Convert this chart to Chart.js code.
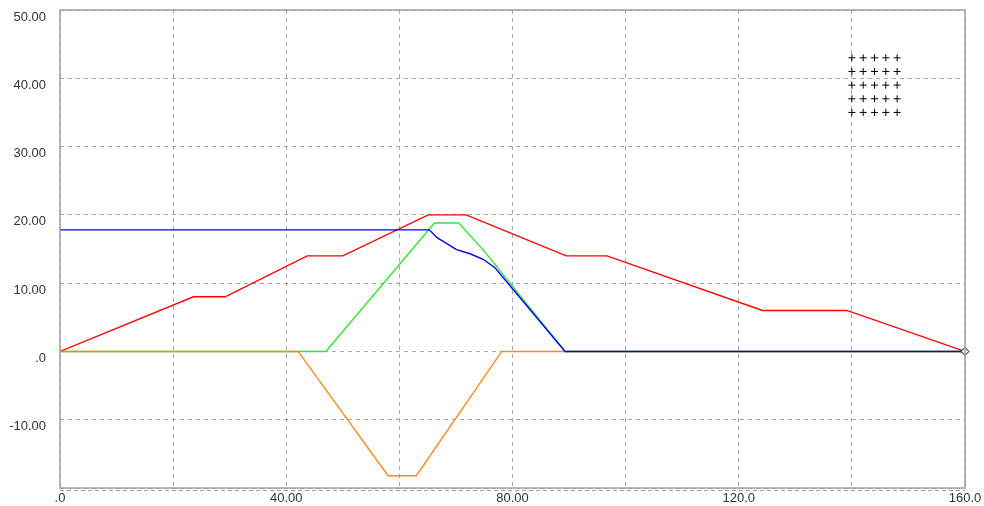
<!DOCTYPE html>
<html>
<head>
<meta charset="utf-8">
<script src="https://cdn.jsdelivr.net/npm/chart.js@4/dist/chart.umd.min.js"></script>
<style>
  html, body { margin: 0; padding: 0; background: #fff; }
  #wrap { width: 984px; height: 506px; position: relative; }
</style>
</head>
<body>
<div id="wrap"><canvas id="c" width="984" height="506"></canvas></div>
<script>
// ---- Data ----
const redX    = [0, 23.6, 29.2, 43.7, 50, 65.1, 71.8, 89.5, 96.7, 124.2, 139.1, 160];
const redY    = [0, 8, 8, 14, 14, 20, 20, 14, 14, 6, 6, 0];
const greenX  = [0, 47, 66.2, 70.5, 75.3, 89.3, 160];
const greenY  = [0, 0, 18.8, 18.8, 14.4, 0, 0];
const blueX   = [0, 65.3, 66.6, 70.1, 72.5, 74.8, 76.9, 89.3, 160];
const blueY   = [17.8, 17.8, 16.7, 14.9, 14.3, 13.5, 12.25, 0, 0];
const orangeX = [0, 42.1, 58, 63, 78.1, 160];
const orangeY = [0, 0, -18.2, -18.2, 0, 0];
const crossX  = [140, 142, 144, 146, 148];
const crossY  = [43, 41, 39, 37, 35];
const endMarkX = [160];
const endMarkY = [0];

const xTickValues = [0, 40, 80, 120, 160];
const xTickLabels = ['.0', '40.00', '80.00', '120.0', '160.0'];
const yTickValues = [50, 40, 30, 20, 10, 0, -10];
const yTickLabels = ['50.00', '40.00', '30.00', '20.00', '10.00', '.0', '-10.00'];

function pts(xs, ys) { return xs.map((x, i) => ({ x: x, y: ys[i] })); }
const crossPts = [];
for (const y of crossY) for (const x of crossX) crossPts.push({ x: x, y: y });

function lineDs(data, color) {
  return { type: 'line', data: data, borderColor: color, borderWidth: 1.4,
           pointRadius: 0, fill: false, tension: 0 };
}

const framePlugin = {
  id: 'frame',
  afterDraw(chart) {
    const a = chart.chartArea, ctx = chart.ctx;
    ctx.save();
    ctx.strokeStyle = '#a0a0a0';
    ctx.lineWidth = 1.5;
    ctx.setLineDash([]);
    ctx.strokeRect(a.left, a.top, a.right - a.left, a.bottom - a.top);
    ctx.lineWidth = 1;
    ctx.setLineDash([4, 3]);
    ctx.beginPath();
    ctx.moveTo(a.left, a.bottom + 2.5);
    ctx.lineTo(a.right, a.bottom + 2.5);
    ctx.stroke();
    ctx.restore();
  }
};

const gridStyle = { color: '#a8a8a8', lineWidth: 1, drawTicks: false };

new Chart(document.getElementById('c'), {
  type: 'line',
  data: {
    datasets: [
      { type: 'scatter', data: pts(endMarkX, endMarkY), pointStyle: 'rectRot', clip: false,
        pointRadius: 4, backgroundColor: '#ffffff', borderColor: '#000000', borderWidth: 1, showLine: false },
      { type: 'scatter', data: crossPts, pointStyle: 'cross', pointRadius: 3.5,
        borderColor: '#000000', borderWidth: 1, showLine: false },
      lineDs(pts(blueX, blueY), '#0000ff'),
      lineDs(pts(orangeX, orangeY), '#ff8a1a'),
      lineDs(pts(redX, redY), '#ff0000'),
      lineDs(pts(greenX, greenY), '#33e633')
    ]
  },
  options: {
    responsive: false,
    animation: false,
    events: [],
    layout: { padding: { left: 0, right: 19, top: 10, bottom: 0 } },
    plugins: { legend: { display: false }, tooltip: { enabled: false } },
    scales: {
      x: {
        type: 'linear', min: 0, max: 160,
        grid: gridStyle,
        border: { display: false, dash: [4, 4] },
        afterBuildTicks(scale) {
          const t = [];
          for (let v = 0; v <= 160; v += 20) t.push({ value: v });
          scale.ticks = t;
        },
        afterFit(scale) { scale.height = 18; scale.paddingLeft = 0; scale.paddingRight = 0; },
        ticks: {
          autoSkip: false, maxRotation: 0, padding: 3,
          color: '#333', font: { family: 'Liberation Sans', size: 13 },
          callback(v) { const i = xTickValues.indexOf(v); return i >= 0 ? xTickLabels[i] : ''; }
        }
      },
      y: {
        type: 'linear', min: -20, max: 50,
        grid: gridStyle,
        border: { display: false, dash: [4, 4] },
        afterBuildTicks(scale) {
          const t = [];
          for (let v = -20; v <= 50; v += 10) t.push({ value: v });
          scale.ticks = t;
        },
        afterFit(scale) { scale.width = 60; scale.paddingTop = 0; scale.paddingBottom = 0; },
        ticks: {
          autoSkip: false, padding: 14, labelOffset: 7,
          color: '#333', font: { family: 'Liberation Sans', size: 13 },
          callback(v) { const i = yTickValues.indexOf(v); return i >= 0 ? yTickLabels[i] : ''; }
        }
      }
    }
  },
  plugins: [framePlugin]
});
</script>
</body>
</html>
